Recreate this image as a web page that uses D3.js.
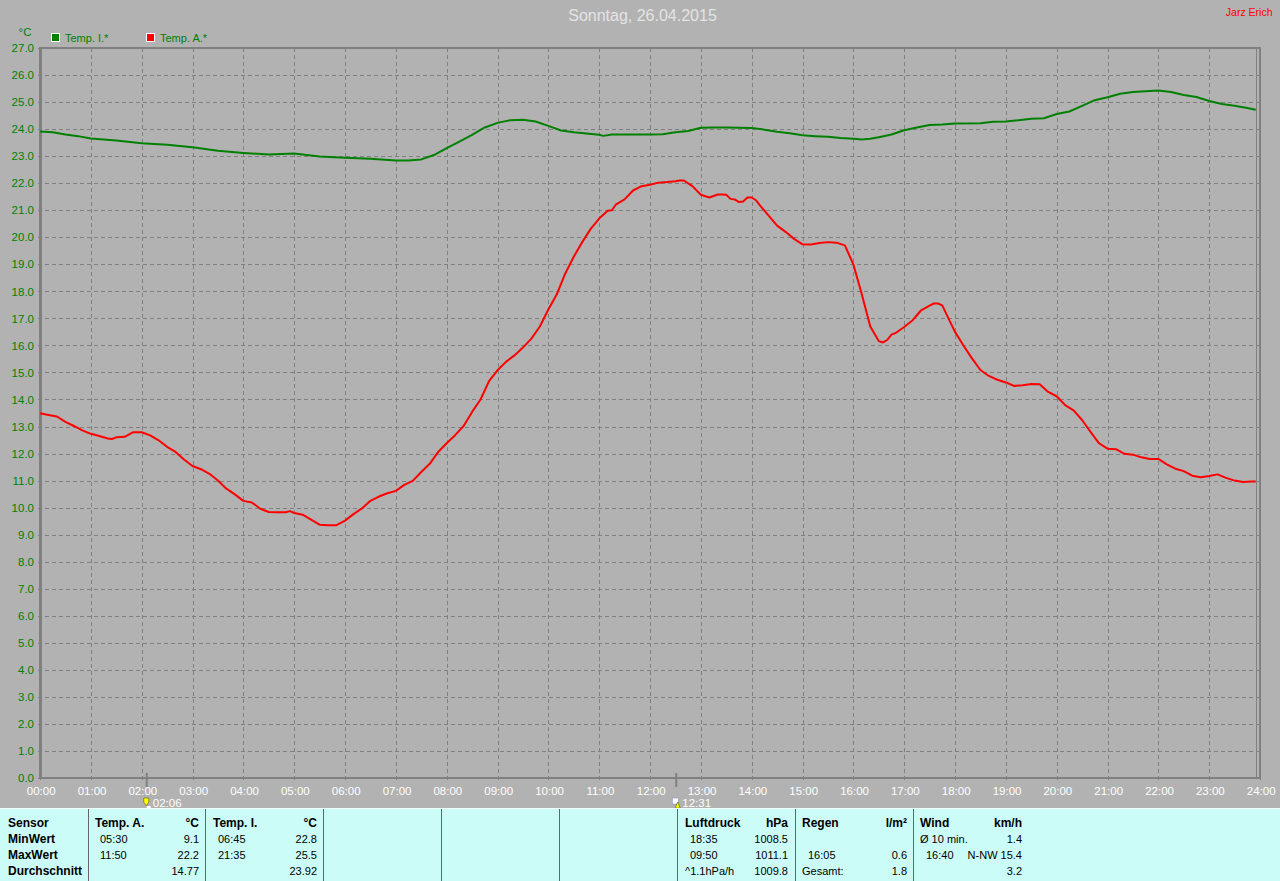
<!DOCTYPE html>
<html><head><meta charset="utf-8">
<script src="https://d3js.org/d3.v7.min.js"></script>
<style>
html,body{margin:0;padding:0;background:#b2b2b2;overflow:hidden}
svg{display:block}
text{font-family:"Liberation Sans",Arial,sans-serif;font-size:11px}
</style></head><body>
<script>
const title = "Sonntag, 26.04.2015";
const author = "Jarz Erich";
const unitLabel = "°C";
const seriesNames = ["Temp. I.*", "Temp. A.*"];
const seriesColors = ["#008000", "#ff0000"];

const hourLabels = ["00:00","01:00","02:00","03:00","04:00","05:00","06:00","07:00","08:00","09:00","10:00","11:00","12:00","13:00","14:00","15:00","16:00","17:00","18:00","19:00","20:00","21:00","22:00","23:00","24:00"];
const tempTicks = [0,1,2,3,4,5,6,7,8,9,10,11,12,13,14,15,16,17,18,19,20,21,22,23,24,25,26,27];

const indoorTimes = ["00:00","00:15","00:30","00:45","01:00","01:30","02:00","02:30","03:00","03:30","04:00","04:30","05:00","05:30","06:00","06:30","07:00","07:15","07:30","07:45","08:00","08:15","08:30","08:45","09:00","09:15","09:30","09:45","10:00","10:15","10:30","10:45","11:00","11:05","11:15","11:30","12:00","12:15","12:30","12:45","13:00","13:15","13:30","13:45","14:00","14:15","14:30","14:45","15:00","15:15","15:30","15:45","16:00","16:10","16:20","16:30","16:45","17:00","17:15","17:30","17:45","18:00","18:30","18:45","19:00","19:15","19:30","19:45","20:00","20:15","20:30","20:45","21:00","21:15","21:30","21:45","22:00","22:15","22:30","22:45","23:00","23:15","23:30","23:45","23:55"];
const indoorTemps = [23.91,23.88,23.8,23.74,23.65,23.58,23.48,23.42,23.33,23.2,23.12,23.06,23.1,22.99,22.94,22.9,22.84,22.84,22.88,23.04,23.3,23.54,23.79,24.06,24.23,24.33,24.35,24.28,24.12,23.95,23.88,23.84,23.79,23.75,23.8,23.8,23.8,23.81,23.88,23.93,24.05,24.06,24.06,24.05,24.04,23.98,23.9,23.85,23.77,23.74,23.72,23.67,23.64,23.62,23.64,23.7,23.8,23.96,24.06,24.15,24.17,24.21,24.22,24.27,24.28,24.33,24.38,24.4,24.56,24.65,24.86,25.07,25.18,25.31,25.37,25.4,25.43,25.37,25.26,25.19,25.04,24.93,24.86,24.78,24.72];

const outdoorTimes = ["00:00","00:10","00:20","00:30","00:40","00:50","01:00","01:10","01:20","01:25","01:30","01:40","01:50","02:00","02:10","02:20","02:30","02:40","02:50","03:00","03:10","03:20","03:30","03:40","03:50","04:00","04:10","04:20","04:30","04:40","04:50","04:55","05:00","05:10","05:20","05:30","05:40","05:50","06:00","06:10","06:20","06:30","06:40","06:50","07:00","07:10","07:20","07:30","07:40","07:50","08:00","08:10","08:20","08:30","08:40","08:50","09:00","09:10","09:20","09:30","09:40","09:50","10:00","10:10","10:20","10:30","10:40","10:50","11:00","11:10","11:15","11:20","11:30","11:40","11:50","12:00","12:10","12:20","12:30","12:35","12:40","12:50","13:00","13:10","13:20","13:25","13:30","13:35","13:40","13:45","13:50","13:55","14:00","14:05","14:10","14:20","14:30","14:40","14:50","15:00","15:10","15:20","15:30","15:40","15:50","16:00","16:10","16:20","16:30","16:35","16:40","16:45","16:50","17:00","17:10","17:20","17:30","17:35","17:40","17:45","17:50","18:00","18:10","18:20","18:30","18:40","18:50","19:00","19:10","19:20","19:30","19:40","19:50","20:00","20:10","20:20","20:30","20:40","20:50","21:00","21:10","21:20","21:30","21:40","21:50","22:00","22:10","22:20","22:30","22:40","22:50","23:00","23:10","23:20","23:30","23:40","23:50","23:55"];
const outdoorTemps = [13.49,13.43,13.37,13.17,13.02,12.86,12.73,12.65,12.56,12.54,12.6,12.62,12.79,12.79,12.67,12.49,12.25,12.06,11.78,11.54,11.42,11.25,11.0,10.7,10.49,10.25,10.19,9.96,9.84,9.83,9.83,9.87,9.8,9.74,9.56,9.37,9.35,9.35,9.52,9.76,9.97,10.25,10.41,10.53,10.62,10.84,10.99,11.32,11.62,12.06,12.38,12.68,13.02,13.54,14.0,14.68,15.08,15.39,15.63,15.92,16.25,16.7,17.33,17.89,18.66,19.28,19.82,20.31,20.69,20.98,21.0,21.22,21.4,21.73,21.89,21.94,22.02,22.04,22.07,22.1,22.1,21.89,21.57,21.47,21.58,21.58,21.57,21.42,21.4,21.3,21.32,21.47,21.47,21.37,21.17,20.8,20.43,20.2,19.94,19.74,19.73,19.79,19.82,19.8,19.7,19.0,17.89,16.7,16.16,16.11,16.2,16.4,16.46,16.68,16.93,17.3,17.47,17.55,17.55,17.48,17.15,16.5,16.0,15.52,15.09,14.87,14.73,14.63,14.5,14.53,14.57,14.56,14.28,14.12,13.79,13.6,13.24,12.8,12.38,12.18,12.16,11.99,11.96,11.86,11.8,11.8,11.6,11.44,11.35,11.18,11.12,11.17,11.23,11.1,11.0,10.95,10.97,10.97];

const sunTimes = ["02:06","12:31"];

const panelDividers = [88,205,323,441,559,677,795,913];
const panelRows = [
  ["Sensor","sensor",0,1],["MinWert","sensor",1,1],["MaxWert","sensor",2,1],["Durchschnitt","sensor",3,1],
  ["Temp. A.","aHead",0,1],["°C","aVal",0,1],["05:30","aTime",1,0],["9.1","aVal",1,0],["11:50","aTime",2,0],["22.2","aVal",2,0],["14.77","aVal",3,0],
  ["Temp. I.","iHead",0,1],["°C","iVal",0,1],["06:45","iTime",1,0],["22.8","iVal",1,0],["21:35","iTime",2,0],["25.5","iVal",2,0],["23.92","iVal",3,0],
  ["Luftdruck","pHead",0,1],["hPa","pVal",0,1],["18:35","pTime",1,0],["1008.5","pVal",1,0],["09:50","pTime",2,0],["1011.1","pVal",2,0],["^1.1hPa/h","pHead",3,0],["1009.8","pVal",3,0],
  ["Regen","rHead",0,1],["l/m²","rVal",0,1],["16:05","rTime",2,0],["0.6","rVal",2,0],["Gesamt:","rHead",3,0],["1.8","rVal",3,0],
  ["Wind","wHead",0,1],["km/h","wVal",0,1],["Ø 10 min.","wHead",1,0],["1.4","wVal",1,0],["16:40","wTime",2,0],["N-NW 15.4","wVal",2,0],["3.2","wVal",3,0]
];
const panelCols = {sensor:8,aHead:95,aTime:100,aVal:199,iHead:213,iTime:218,iVal:317,pHead:685,pTime:690,pVal:788,rHead:802,rTime:808,rVal:907,wHead:920,wTime:926,wVal:1022};
const rightCols = ["aVal","iVal","pVal","rVal","wVal"];

const toMin = s => { const [h,m] = s.split(":").map(Number); return h*60+m; };

const W = 1280, H = 881;
const plotL = 40, plotR = 1260, plotT = 48, plotB = 778;
const bg = "#b2b2b2", gridCol = "#808080";

const svg = d3.select("body").append("svg").attr("width",W).attr("height",H);
svg.append("rect").attr("width",W).attr("height",H).attr("fill",bg);

const x = d3.scaleLinear().domain([0,1440]).range([plotL,plotR]);
const y = d3.scaleLinear().domain([0,27]).range([plotB,plotT]);

const xAxis = d3.axisBottom(x).tickValues(hourLabels.map((d,i)=>i*60))
  .tickFormat((d,i)=>hourLabels[i]).tickSize(plotB-plotT+5).tickPadding(4);
const gx = svg.append("g").attr("transform",`translate(0,${plotT})`).call(xAxis);
gx.select(".domain").remove();
gx.selectAll("line").attr("stroke",gridCol).attr("stroke-dasharray","4,3").attr("shape-rendering","crispEdges");
gx.selectAll("text").attr("fill","#ffffff").attr("dx",0.7).style("font-size","11.5px");

const yAxis = d3.axisLeft(y).tickValues(tempTicks).tickFormat(d3.format(".1f"))
  .tickSize(plotR-plotL+4).tickPadding(2);
const gy = svg.append("g").attr("transform",`translate(${plotR},0)`).call(yAxis);
gy.select(".domain").remove();
gy.selectAll("line").attr("stroke",gridCol).attr("stroke-dasharray","4,3").attr("shape-rendering","crispEdges");
gy.selectAll("text").attr("fill","#008000").style("font-size","11.5px");

const frame = [
  [plotL-1,plotT-1,3,plotB-plotT+2],[plotL-1,plotT-1,plotR-plotL+2,2],
  [plotL-1,plotB-1,plotR-plotL+2,2],[plotR-1,plotT-1,2,plotB-plotT+2]
];
svg.selectAll("rect.frame").data(frame).enter().append("rect").attr("class","frame")
  .attr("x",d=>d[0]).attr("y",d=>d[1]).attr("width",d=>d[2]).attr("height",d=>d[3]).attr("fill",gridCol);
svg.append("line").attr("x1",x(1436)).attr("x2",x(1436)).attr("y1",plotT).attr("y2",plotB)
  .attr("stroke",gridCol).attr("shape-rendering","crispEdges");

const line = d3.line().x(d=>x(d[0])).y(d=>y(d[1])).curve(d3.curveLinear);
const draw = (t,v,c) => svg.append("path").attr("d",line(t.map((s,i)=>[toMin(s),v[i]])))
  .attr("fill","none").attr("stroke",c).attr("stroke-width",2).attr("stroke-linejoin","round");
draw(indoorTimes,indoorTemps,seriesColors[0]);
draw(outdoorTimes,outdoorTemps,seriesColors[1]);

sunTimes.forEach((s,i)=>{
  const sx = x(toMin(s));
  svg.append("rect").attr("x",sx-1).attr("y",773).attr("width",2).attr("height",14).attr("fill",gridCol);
  svg.append("text").attr("x",sx+6).attr("y",807).attr("fill","#ffffff").style("font-size","11.5px").text(s);
  const g = svg.append("g").attr("transform",`translate(${sx},0)`);
  if(i===0){
    g.append("path").attr("d","M-3,798h5v4l-2.500,4l-2.500,-4z").attr("fill","#ffff00").attr("stroke","#404000").attr("stroke-width",.5);
    g.append("rect").attr("x",0).attr("y",806).attr("width",4).attr("height",2).attr("fill","#ffffff");
  } else {
    g.append("rect").attr("x",-4).attr("y",798).attr("width",6).attr("height",6).attr("fill","#ffffff").attr("stroke","#8080c0").attr("stroke-width",.5);
    g.append("path").attr("d","M-1,808l2.500,-6l2.500,6z").attr("fill","#ffff00").attr("stroke","#404000").attr("stroke-width",.5);
  }
});

svg.append("text").attr("x",642.5).attr("y",20.5).attr("text-anchor","middle").attr("fill","#e4e4e4").style("font-size","16px").text(title);
svg.append("text").attr("x",1272.5).attr("y",16).attr("text-anchor","end").attr("fill","#ff0000").style("font-size","10.5px").text(author);
svg.append("text").attr("x",25).attr("y",36).attr("text-anchor","middle").attr("fill","#008000").style("font-size","11.5px").text(unitLabel);

const legendX = [51,146];
seriesNames.forEach((n,i)=>{
  svg.append("rect").attr("x",legendX[i]+.5).attr("y",33.5).attr("width",8).attr("height",8).attr("fill",seriesColors[i]).attr("stroke","#fff").attr("stroke-width",1).attr("shape-rendering","crispEdges");
  svg.append("text").attr("x",legendX[i]+14).attr("y",42).attr("fill","#008000").style("font-size","11px").text(n);
});

svg.append("rect").attr("x",0).attr("y",808).attr("width",W).attr("height",H-808).attr("fill","#ccfcf8");
svg.append("rect").attr("x",0).attr("y",808).attr("width",W).attr("height",1).attr("fill","#eefefc");
svg.selectAll("line.div").data(panelDividers).enter().append("line").attr("class","div")
  .attr("x1",d=>d+.5).attr("x2",d=>d+.5).attr("y1",809).attr("y2",H).attr("stroke","#666").attr("stroke-width",1);
const rowY = [827,843,859,875];
svg.selectAll("text.p").data(panelRows).enter().append("text").attr("class","p")
  .attr("x",d=>panelCols[d[1]]).attr("y",d=>rowY[d[2]])
  .attr("text-anchor",d=>rightCols.includes(d[1])?"end":"start")
  .attr("font-weight",d=>d[3]?"bold":"normal")
  .style("font-size",d=>d[3]?"12px":"11px")
  .attr("fill","#000").text(d=>d[0]);
</script>
</body></html>
